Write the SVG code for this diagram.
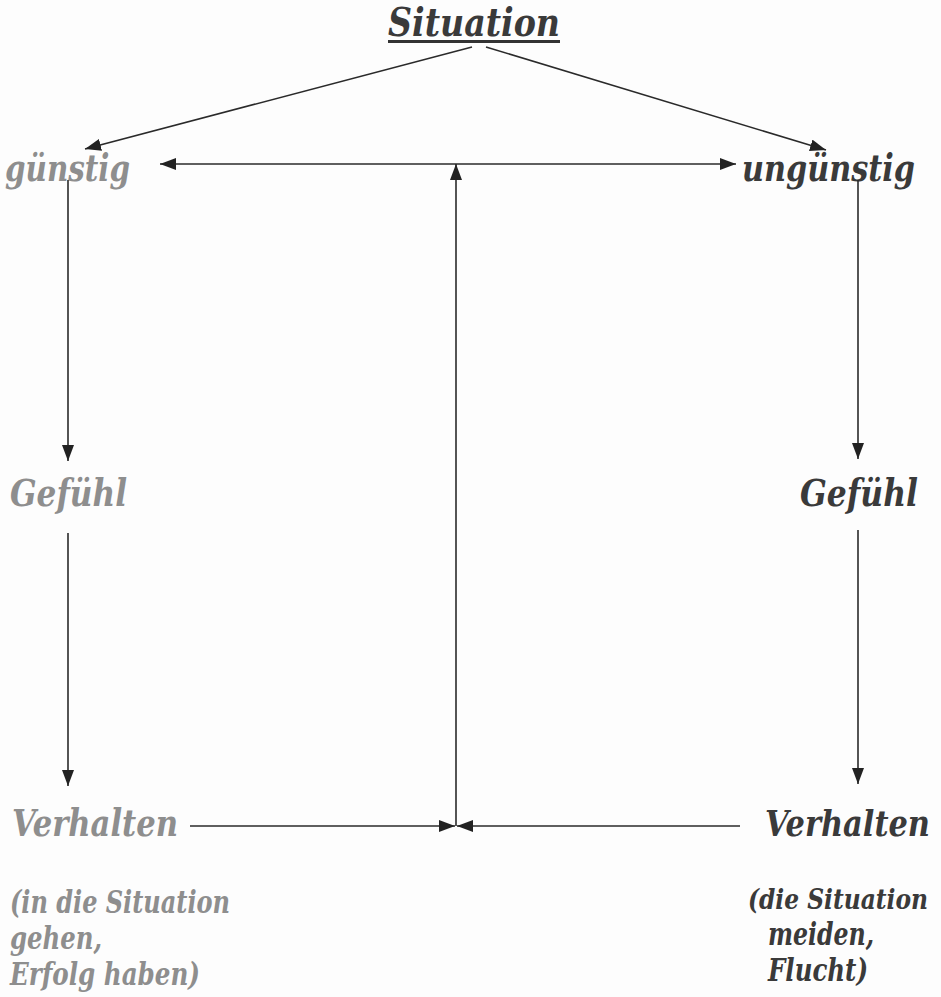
<svg xmlns="http://www.w3.org/2000/svg" width="941" height="997" viewBox="0 0 941 997">
<style>
.t{font-family:"DejaVu Serif Condensed","DejaVu Serif",serif;font-stretch:condensed;font-weight:bold;font-style:italic}
.g{fill:#8e8e8e}
.d{fill:#3a3a3a}
.big{font-size:38px}
.small{font-size:31px}
.ln{stroke:#2a2a2a;stroke-width:1.6;fill:none}
</style>
<defs>
<marker id="ah" viewBox="0 0 16 12" refX="16" refY="6" markerWidth="16" markerHeight="12" markerUnits="userSpaceOnUse" orient="auto-start-reverse">
<path d="M0,0 L16,6 L0,12 Z" fill="#222"/>
</marker>
</defs>
<rect width="941" height="997" fill="#fdfdfd"/>
<g id="situation">
<text x="388" y="36" class="t d" style="font-size:39px" textLength="172" lengthAdjust="spacingAndGlyphs">Situation</text>
<rect x="388" y="40" width="172" height="3" fill="#333"/>
</g>
<g id="guenstig"><text x="5" y="181" class="t g big" textLength="125" lengthAdjust="spacingAndGlyphs">günstig</text></g>
<g id="unguenstig"><text x="742" y="181" class="t d big" textLength="173" lengthAdjust="spacingAndGlyphs">ungünstig</text></g>
<g id="gefuehl-left"><text x="10" y="506" class="t g big" textLength="117" lengthAdjust="spacingAndGlyphs">Gefühl</text></g>
<g id="gefuehl-right"><text x="800" y="506" class="t d big" textLength="118" lengthAdjust="spacingAndGlyphs">Gefühl</text></g>
<g id="verhalten-left"><text x="12" y="836" class="t g big" textLength="166" lengthAdjust="spacingAndGlyphs">Verhalten</text></g>
<g id="verhalten-right"><text x="765" y="836" class="t d" style="font-size:35px" textLength="165" lengthAdjust="spacingAndGlyphs">Verhalten</text></g>
<g id="note-left" class="t g small">
<text x="10" y="913" textLength="220" lengthAdjust="spacingAndGlyphs">(in die Situation</text>
<text x="10" y="949" textLength="92" lengthAdjust="spacingAndGlyphs">gehen,</text>
<text x="10" y="985" textLength="190" lengthAdjust="spacingAndGlyphs">Erfolg haben)</text>
</g>
<g id="note-right" class="t d small">
<text x="748" y="909" style="font-size:27px" textLength="180" lengthAdjust="spacingAndGlyphs">(die Situation</text>
<text x="768" y="945" textLength="106" lengthAdjust="spacingAndGlyphs">meiden,</text>
<text x="768" y="981" textLength="100" lengthAdjust="spacingAndGlyphs">Flucht)</text>
</g>
<g id="connectors" class="ln">
<line x1="472" y1="47" x2="85" y2="149" marker-end="url(#ah)"/>
<line x1="486" y1="47" x2="826" y2="150" marker-end="url(#ah)"/>
<line x1="160" y1="164" x2="736" y2="164" marker-start="url(#ah)" marker-end="url(#ah)"/>
<line x1="456" y1="826" x2="456" y2="164" marker-end="url(#ah)"/>
<line x1="68" y1="180" x2="68" y2="461" marker-end="url(#ah)"/>
<line x1="68" y1="533" x2="68" y2="786" marker-end="url(#ah)"/>
<line x1="858" y1="180" x2="858" y2="459" marker-end="url(#ah)"/>
<line x1="858" y1="530" x2="858" y2="784" marker-end="url(#ah)"/>
<line x1="190" y1="826" x2="455" y2="826" marker-end="url(#ah)"/>
<line x1="740" y1="826" x2="457" y2="826" marker-end="url(#ah)"/>
</g>
</svg>
